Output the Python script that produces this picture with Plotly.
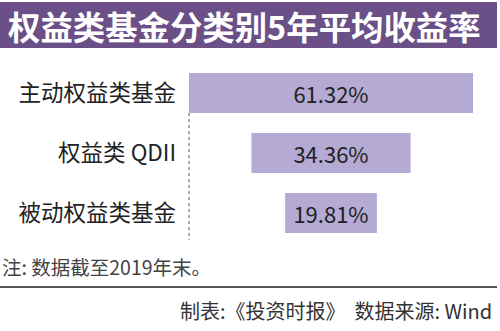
import plotly.graph_objects as go

categories = ["主动权益类基金", "权益类 QDII", "被动权益类基金"]
values = [61.32, 34.36, 19.81]
title_text = "权益类基金分类别5年平均收益率"
note_text = "注: 数据截至2019年末。"
source_text = "制表:《投资时报》  数据来源: Wind"

W, H = 500, 331
L, R, T, B = 185, 23, 63, 88
pw, ph = W - L - R, H - T - B

def px_x(p):
    return (p - L) / pw

def px_y(p):
    return 1 - (p - T) / ph

FONT = "Noto Sans CJK SC"
half = values[0] / 2 * (pw / 284)

fig = go.Figure(go.Funnel(
    y=categories,
    x=values,
    texttemplate="%{x:.2f}%",
    textposition="inside",
    insidetextanchor="middle",
    textfont=dict(size=22, color="#222222", family=FONT),
    marker=dict(color="#b4aad4", line=dict(width=0)),
    connector=dict(visible=False),
    hoverinfo="skip",
))

gap = 0.33
fig.update_layout(
    width=W, height=H,
    margin=dict(l=L, r=R, t=T, b=B, pad=0),
    paper_bgcolor="white", plot_bgcolor="white",
    funnelgap=gap,
    showlegend=False,
    font=dict(family=FONT),
    xaxis=dict(visible=False, range=[-half, half]),
    yaxis=dict(
        categoryorder="array", categoryarray=categories,
        autorange=False, range=[len(categories) - 0.5, -0.5],
        showgrid=False, zeroline=False, showline=False, ticks="",
        tickfont=dict(size=22.5, color="#222222", family=FONT),
        ticklabelstandoff=8,
    ),
    shapes=[
        dict(type="rect", xref="paper", yref="paper",
             x0=px_x(0), x1=px_x(497), y0=px_y(48), y1=px_y(2),
             fillcolor="#6b5088", line=dict(width=0), layer="below"),
        dict(type="line", xref="x", yref="y",
             x0=-values[0] / 2, x1=-values[0] / 2,
             y0=(1 - gap) / 2, y1=len(categories) - 0.55,
             line=dict(color="#555555", width=1, dash="dot")),
        dict(type="line", xref="paper", yref="paper",
             x0=px_x(0), x1=px_x(497), y0=px_y(287), y1=px_y(287),
             line=dict(color="#555555", width=2)),
    ],
    annotations=[
        dict(text=f"<b>{title_text}</b>", xref="paper", yref="paper",
             x=px_x(6), y=px_y(25), xanchor="left", yanchor="middle",
             showarrow=False, font=dict(size=32.4, color="white", family=FONT)),
        dict(text=note_text, xref="paper", yref="paper",
             x=px_x(0), y=px_y(266), xanchor="left", yanchor="middle",
             showarrow=False, font=dict(size=19.5, color="#444444", family=FONT)),
        dict(text=source_text, xref="paper", yref="paper",
             x=px_x(494), y=px_y(310), xanchor="right", yanchor="middle",
             showarrow=False, font=dict(size=20, color="#333333", family=FONT)),
    ],
)

fig.write_html("out.html")
